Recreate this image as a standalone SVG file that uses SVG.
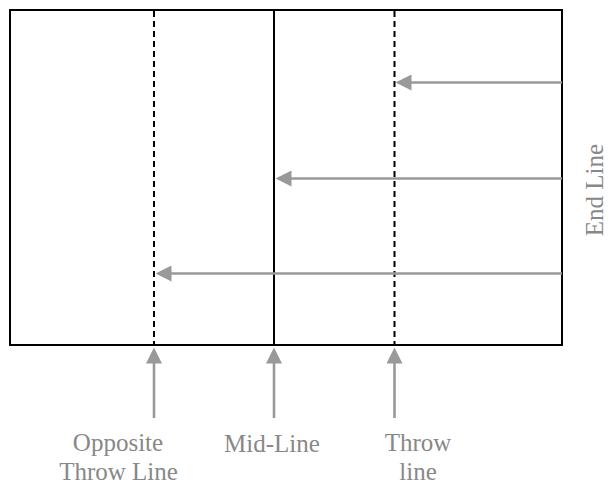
<svg xmlns="http://www.w3.org/2000/svg" width="609" height="487" viewBox="0 0 609 487">
  <style>
    .field { fill: #ffffff; stroke: #000000; stroke-width: 2; }
    .solid { stroke: #000000; stroke-width: 2; fill: none; }
    .dash { stroke: #000000; stroke-width: 2; stroke-dasharray: 6 4; fill: none; }
    .arrow { stroke: #999999; stroke-width: 2.6; fill: none; marker-end: url(#head); }
    .label { font-family: "Liberation Serif", "Times New Roman", serif; font-size: 25px; fill: #888888; text-anchor: middle; }
  </style>
  <defs>
    <marker id="head" markerUnits="userSpaceOnUse" markerWidth="16" markerHeight="16" viewBox="0 0 16 16" refX="0.5" refY="8" orient="auto">
      <path d="M0,0 L16,8 L0,16 z" fill="#999999"/>
    </marker>
  </defs>

  <g id="field">
    <rect class="field" x="10" y="10" width="552" height="335"/>
  </g>
  <g id="opposite-throw-line">
    <line class="dash" x1="154" y1="11" x2="154" y2="344"/>
  </g>
  <g id="mid-line">
    <line class="solid" x1="274" y1="10" x2="274" y2="345"/>
  </g>
  <g id="throw-line">
    <line class="dash" x1="394.5" y1="11" x2="394.5" y2="344"/>
  </g>

  <g id="connectors">
    <line class="arrow" x1="562" y1="82.5" x2="411" y2="82.5"/>
    <line class="arrow" x1="562" y1="178.5" x2="291" y2="178.5"/>
    <line class="arrow" x1="562" y1="273.5" x2="171" y2="273.5"/>
    <line class="arrow" x1="154" y1="418" x2="154" y2="363"/>
    <line class="arrow" x1="274" y1="418" x2="274" y2="363"/>
    <line class="arrow" x1="394.5" y1="418" x2="394.5" y2="363"/>
  </g>

  <g id="label-opposite">
    <text class="label" x="118" y="451">Opposite</text>
    <text class="label" x="118.5" y="480">Throw Line</text>
  </g>
  <g id="label-mid">
    <text class="label" x="272" y="452">Mid-Line</text>
  </g>
  <g id="label-throw">
    <text class="label" x="418" y="451">Throw</text>
    <text class="label" x="418" y="480">line</text>
  </g>
  <g id="label-end">
    <text class="label" transform="translate(603,190) rotate(-90)">End Line</text>
  </g>
</svg>
